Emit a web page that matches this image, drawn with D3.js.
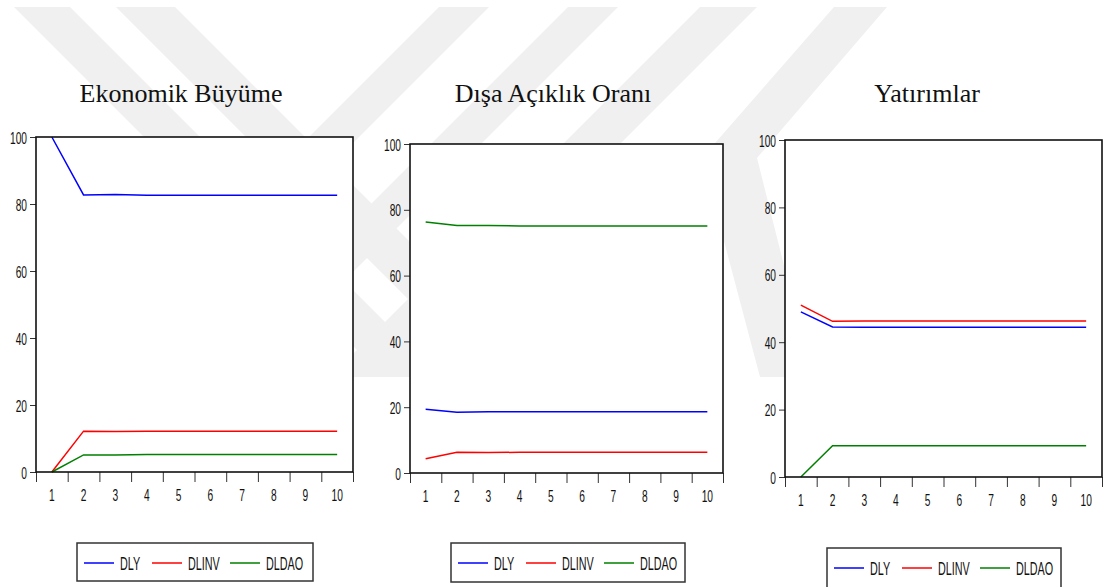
<!DOCTYPE html>
<html>
<head>
<meta charset="utf-8">
<script src="https://cdn.jsdelivr.net/npm/d3@7"></script>
<style>
  body { margin: 0; background: #fff; }
</style>
</head>
<body>
<div id="graph"></div>
<script>
// ---- data (variance decomposition, periods 1..10) ----
const periods = ['1', '2', '3', '4', '5', '6', '7', '8', '9', '10'];
const seriesNames = ['DLY', 'DLINV', 'DLDAO'];
const seriesColors = ['#0000ff', '#ff0000', '#008000'];
const yTicks = [0, 20, 40, 60, 80, 100];
const panelTitles = ['Ekonomik Büyüme', 'Dışa Açıklık Oranı', 'Yatırımlar'];

// Ekonomik Büyüme
const growthDLY   = [100, 82.7, 82.8, 82.6, 82.6, 82.6, 82.6, 82.6, 82.6, 82.6];
const growthDLINV = [0, 12.2, 12.1, 12.2, 12.2, 12.2, 12.2, 12.2, 12.2, 12.2];
const growthDLDAO = [0, 5.1, 5.1, 5.2, 5.2, 5.2, 5.2, 5.2, 5.2, 5.2];

// Dışa Açıklık Oranı
const openDLY   = [19.4, 18.5, 18.6, 18.6, 18.6, 18.6, 18.6, 18.6, 18.6, 18.6];
const openDLINV = [4.3, 6.3, 6.2, 6.3, 6.3, 6.3, 6.3, 6.3, 6.3, 6.3];
const openDLDAO = [76.3, 75.2, 75.2, 75.1, 75.1, 75.1, 75.1, 75.1, 75.1, 75.1];

// Yatırımlar
const invDLY   = [49.0, 44.5, 44.4, 44.4, 44.4, 44.4, 44.4, 44.4, 44.4, 44.4];
const invDLINV = [51.0, 46.2, 46.3, 46.3, 46.3, 46.3, 46.3, 46.3, 46.3, 46.3];
const invDLDAO = [0, 9.3, 9.3, 9.3, 9.3, 9.3, 9.3, 9.3, 9.3, 9.3];

const panelSeries = [
  [growthDLY, growthDLINV, growthDLDAO],
  [openDLY, openDLINV, openDLDAO],
  [invDLY, invDLINV, invDLDAO]
];

// ---- layout ----
var width = 1105, height = 587;
var layout = [
  {left: 36,  right: 353,  top: 137, bottom: 472, titleX: 181, lx: 77,  ly: 543, lw: 236, lh: 38},
  {left: 410, right: 723,  top: 144, bottom: 473, titleX: 553, lx: 451, ly: 543, lw: 234, lh: 39},
  {left: 785, right: 1102, top: 140, bottom: 477, titleX: 927, lx: 827, ly: 548, lw: 234, lh: 42}
];
var sx = 0.6; // condensed label look

var svg = d3.select('#graph')
            .append('svg')
            .attr('width', width)
            .attr('height', height)
            .style('font-family', '"Liberation Sans", Arial, sans-serif');

svg.append('rect').attr('width', width).attr('height', height).attr('fill', '#fff');

// faint watermark stripes in the background
var wm = [
  [[14,7],[70,7],[440,377],[384,377]],
  [[116,7],[175,7],[545,377],[486,377]],
  [[439,7],[489,7],[119,377],[69,377]],
  [[568,7],[618,7],[248,377],[198,377]],
  [[700,7],[757,7],[387,377],[330,377]],
  [[834,7],[887,7],[757,158],[812,377],[760,377],[702,158]]
];
svg.append('g')
   .selectAll('polygon')
   .data(wm)
   .enter()
   .append('polygon')
   .attr('points', d => d.map(p => p.join(',')).join(' '))
   .attr('fill', '#f0f0f0');

layout.forEach(function(L, i) {
  var g = svg.append('g');

  var x = d3.scaleBand().domain(periods).range([L.left, L.right]).padding(0);
  var xEdge = d3.scaleLinear().domain([0, periods.length]).range([L.left, L.right]);
  var y = d3.scaleLinear().domain([0, 100]).range([L.bottom, L.top]);

  // title
  g.append('text')
   .attr('x', L.titleX)
   .attr('y', 102)
   .attr('text-anchor', 'middle')
   .style('font-family', '"Liberation Serif", "Times New Roman", serif')
   .style('font-size', '26px')
   .attr('fill', '#111')
   .text(panelTitles[i]);

  // plot frame
  g.append('rect')
   .attr('x', L.left).attr('y', L.top)
   .attr('width', L.right - L.left).attr('height', L.bottom - L.top)
   .attr('fill', '#fff');

  // y axis
  var ya = g.append('g')
            .attr('transform', 'translate(' + L.left + ',0)')
            .call(d3.axisLeft(y).tickValues(yTicks).tickSize(6).tickPadding(3));
  ya.select('.domain').remove();
  ya.selectAll('line').attr('stroke', '#333');
  ya.selectAll('text')
    .attr('x', -9 / sx)
    .attr('dy', '0.36em')
    .attr('transform', 'scale(' + sx + ',1)')
    .attr('font-size', 17)
    .style('font-size', '17px')
    .attr('fill', '#111');

  // x boundary ticks
  var xe = g.append('g')
            .attr('transform', 'translate(0,' + L.bottom + ')')
            .call(d3.axisBottom(xEdge).tickValues(d3.range(0, periods.length + 1)).tickSize(10).tickFormat(''));
  xe.select('.domain').remove();
  xe.selectAll('line').attr('stroke', '#333');

  // x labels
  var xa = g.append('g')
            .attr('transform', 'translate(0,' + L.bottom + ')')
            .call(d3.axisBottom(x).tickSize(0).tickPadding(17));
  xa.select('.domain').remove();
  xa.selectAll('text')
    .attr('transform', 'scale(' + sx + ',1)')
    .attr('font-size', 17)
    .style('font-size', '17px')
    .attr('fill', '#111');

  // series
  var line = d3.line()
               .x((d, j) => x(periods[j]) + x.bandwidth() / 2)
               .y(d => y(d));

  panelSeries[i].forEach(function(vals, k) {
    g.append('path')
     .datum(vals)
     .attr('d', line)
     .attr('fill', 'none')
     .attr('stroke', seriesColors[k])
     .attr('stroke-width', 1.5);
  });

  // frame on top so the lines sit inside it
  g.append('rect')
   .attr('x', L.left).attr('y', L.top)
   .attr('width', L.right - L.left).attr('height', L.bottom - L.top)
   .attr('fill', 'none')
   .attr('stroke', '#111')
   .attr('stroke-width', 1.6);

  // legend
  var lg = g.append('g').attr('transform', 'translate(' + L.lx + ',' + L.ly + ')');
  lg.append('rect')
    .attr('width', L.lw).attr('height', L.lh)
    .attr('fill', '#fff')
    .attr('stroke', '#333')
    .attr('stroke-width', 1.5);
  var offs = [7, 75, 153];
  seriesNames.forEach(function(name, k) {
    var ly = 20;
    lg.append('line')
      .attr('x1', offs[k]).attr('x2', offs[k] + 30)
      .attr('y1', ly).attr('y2', ly)
      .attr('stroke', seriesColors[k])
      .attr('stroke-width', 1.5);
    lg.append('text')
      .attr('transform', 'translate(' + (offs[k] + 36) + ',' + (ly + 6.5) + ') scale(' + sx + ',1)')
      .style('font-size', '18px')
      .attr('fill', '#111')
      .text(name);
  });
});
</script>
</body>
</html>
